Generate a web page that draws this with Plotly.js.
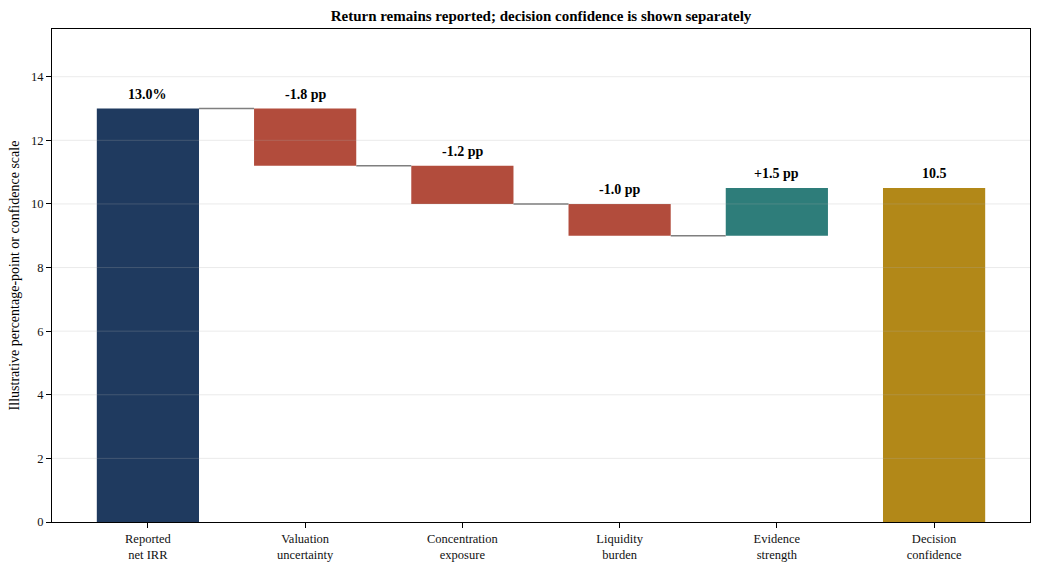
<!DOCTYPE html>
<html><head><meta charset="utf-8">
<script src="https://cdn.plot.ly/plotly-3.0.1.min.js"></script>
<style>html,body{margin:0;padding:0;background:#fff}#chart{width:1040px;height:570px}</style>
</head><body><div id="chart"></div>
<script>
const categories = ["Reported<br>net IRR","Valuation<br>uncertainty","Concentration<br>exposure","Liquidity<br>burden","Evidence<br>strength","Decision<br>confidence"];
const stepValues = [13.0, -1.8, -1.2, -1.0, 1.5];
const decisionValue = 10.5;
const valueLabels = ["13.0%","-1.8 pp","-1.2 pp","-1.0 pp","+1.5 pp","10.5"];
const barColors = ["#1f3a5f","#b24c3c","#b24c3c","#b24c3c","#2e7d7a","#b28818"];
const yTicks = [0,2,4,6,8,10,12,14];

const FONT = 'Liberation Serif';
const W = 0.65;
const bases = [], heights = [], tops = [], ends = [];
let cum = 0;
stepValues.forEach((v,i)=>{
  const b = i===0 ? 0 : cum;
  bases.push(b); heights.push(v);
  cum = b + v;
  ends.push(cum);
  tops.push(Math.max(b, b+v));
});
bases.push(0); heights.push(decisionValue); tops.push(decisionValue);

const trace = {
  type:'bar', x: categories, y: heights, base: bases, width: W,
  marker:{color: barColors, line:{width:0}}, hoverinfo:'skip'
};

const shapes = [];
yTicks.filter(t=>t>0).forEach(t=>{
  shapes.push({type:'line', xref:'paper', yref:'y', x0:0, x1:1, y0:t, y1:t, layer:'above',
    line:{color:'rgba(176,176,176,0.25)', width:1}});
});
for (let i=0;i<stepValues.length-1;i++){
  shapes.push({type:'line', xref:'x', yref:'y', x0:i+W/2, x1:i+1-W/2, y0:ends[i], y1:ends[i], layer:'above',
    line:{color:'#7f7f7f', width:1.5}});
}

const annotations = valueLabels.map((t,i)=>({
  x:i, y:tops[i], xref:'x', yref:'y', text:'<b>'+t+'</b>', showarrow:false, yanchor:'bottom', yshift:5,
  font:{family:FONT, size:14, color:'#000'}
}));

const layout = {
  width:1040, height:570,
  margin:{l:52, r:10, t:29, b:48},
  paper_bgcolor:'#fff', plot_bgcolor:'#fff',
  font:{family:FONT, color:'#000', size:12},
  title:{text:'<b>Return remains reported; decision confidence is shown separately</b>', xref:'paper', x:0.5, xanchor:'center', yref:'container', y:0.972, yanchor:'middle', font:{family:FONT, size:15, color:'#000'}},
  showlegend:false,
  xaxis:{type:'category', range:[-0.61, 5.61], showline:true, linecolor:'#000', linewidth:1, mirror:true,
    ticks:'outside', ticklen:5, tickcolor:'#000', showgrid:false, tickfont:{family:FONT, size:12.5, color:'#111'}, fixedrange:true},
  yaxis:{range:[0,15.5], tickvals:yTicks, showline:true, linecolor:'#000', linewidth:1, mirror:true,
    ticks:'outside', ticklen:5, tickcolor:'#000', showgrid:false, zeroline:false, tickfont:{family:FONT, size:12.5, color:'#111'},
    title:{text:'Illustrative percentage-point or confidence scale', font:{family:FONT, size:14, color:'#000'}, standoff:8}},
  shapes: shapes,
  annotations: annotations
};
Plotly.newPlot('chart',[trace],layout,{displayModeBar:false, staticPlot:true});
</script></body></html>
